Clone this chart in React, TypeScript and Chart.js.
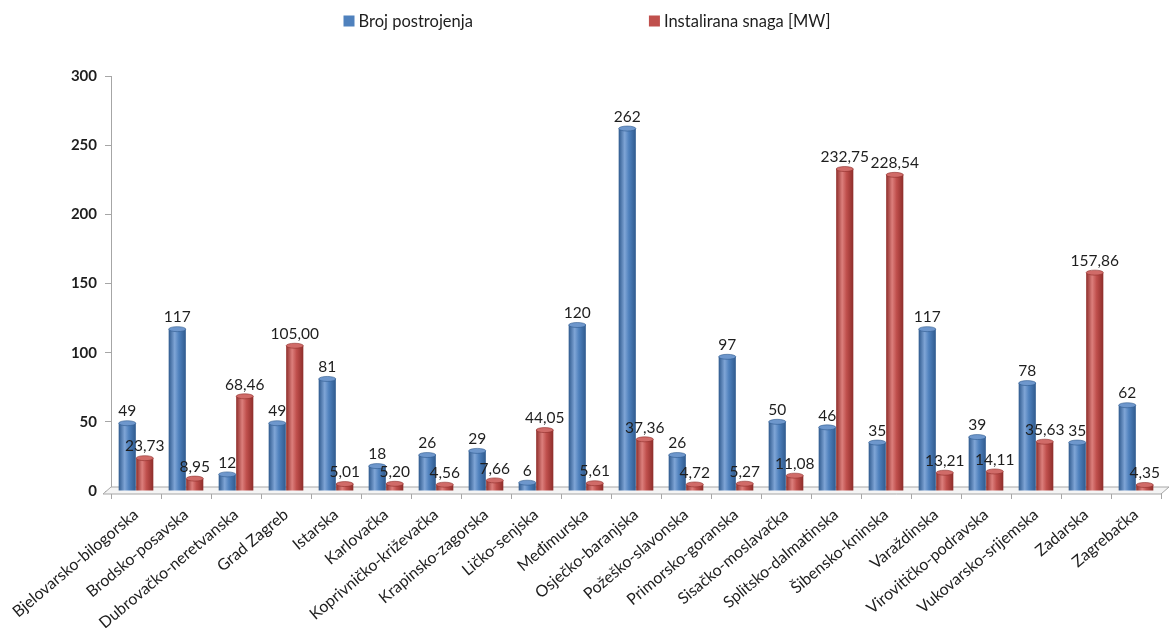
import React, { useEffect, useRef } from "react";
import { Chart, registerables } from "chart.js";

Chart.register(...registerables);

const categories = [
  "Bjelovarsko-bilogorska",
  "Brodsko-posavska",
  "Dubrovačko-neretvanska",
  "Grad Zagreb",
  "Istarska",
  "Karlovačka",
  "Koprivničko-križevačka",
  "Krapinsko-zagorska",
  "Ličko-senjska",
  "Međimurska",
  "Osječko-baranjska",
  "Požeško-slavonska",
  "Primorsko-goranska",
  "Sisačko-moslavačka",
  "Splitsko-dalmatinska",
  "Šibensko-kninska",
  "Varaždinska",
  "Virovitičko-podravska",
  "Vukovarsko-srijemska",
  "Zadarska",
  "Zagrebačka",
];

const brojPostrojenja = [49, 117, 12, 49, 81, 18, 26, 29, 6, 120, 262, 26, 97, 50, 46, 35, 117, 39, 78, 35, 62];
const instaliranaSnaga = [23.73, 8.95, 68.46, 105.0, 5.01, 5.2, 4.56, 7.66, 44.05, 5.61, 37.36, 4.72, 5.27, 11.08, 232.75, 228.54, 13.21, 14.11, 35.63, 157.86, 4.35];

const seriesLabels = ["Broj postrojenja", "Instalirana snaga [MW]"];
const yTicks = [0, 50, 100, 150, 200, 250, 300];

const FONT = "Lato, 'Open Sans', sans-serif";
const palette = [
  { base: "#4F81BD", dark: "#2F5A8E", light: "#7FA5D6", top: "#6E97CC" },
  { base: "#C0504D", dark: "#8E2D2A", light: "#DC7F7C", top: "#D06B68" },
];

const fmt = (v: number, ds: number) => (ds === 0 ? String(v) : v.toFixed(2).replace(".", ","));

const cylinderPlugin = {
  id: "cylinder",
  beforeDatasetsDraw(chart: any) {
    const ctx = chart.ctx;
    chart.data.datasets.forEach((_: any, di: number) => {
      const meta = chart.getDatasetMeta(di);
      const p = palette[di];
      meta.data.forEach((el: any) => {
        const { x, width } = el.getProps(["x", "width"], true);
        const g = ctx.createLinearGradient(x - width / 2, 0, x + width / 2, 0);
        g.addColorStop(0, p.dark);
        g.addColorStop(0.35, p.light);
        g.addColorStop(0.6, p.base);
        g.addColorStop(1, p.dark);
        try {
          el.options.backgroundColor = g;
        } catch (e) {}
      });
    });
    const { left, right, bottom } = chart.chartArea;
    ctx.save();
    ctx.strokeStyle = "#A6A6A6";
    ctx.lineWidth = 1;
    ctx.beginPath();
    ctx.moveTo(left - 8, bottom + 3);
    ctx.lineTo(right, bottom + 3);
    ctx.lineTo(right + 8, bottom - 4);
    ctx.lineTo(left, bottom - 4);
    ctx.closePath();
    ctx.fillStyle = "#F4F4F4";
    ctx.fill();
    ctx.stroke();
    ctx.restore();
  },
  afterDatasetsDraw(chart: any) {
    const ctx = chart.ctx;
    ctx.save();
    chart.data.datasets.forEach((ds: any, di: number) => {
      const meta = chart.getDatasetMeta(di);
      const p = palette[di];
      meta.data.forEach((el: any) => {
        const { x, y, width } = el.getProps(["x", "y", "width"], true);
        ctx.beginPath();
        ctx.ellipse(x, y, width / 2, 2.5, 0, 0, Math.PI * 2);
        ctx.fillStyle = p.top;
        ctx.fill();
        ctx.strokeStyle = p.dark;
        ctx.lineWidth = 0.6;
        ctx.stroke();
      });
    });
    ctx.font = `15.5px ${FONT}`;
    ctx.fillStyle = "#1E1E1E";
    ctx.textAlign = "center";
    ctx.textBaseline = "bottom";
    chart.data.datasets.forEach((ds: any, di: number) => {
      const meta = chart.getDatasetMeta(di);
      meta.data.forEach((el: any, i: number) => {
        const { x, y } = el.getProps(["x", "y"], true);
        ctx.fillText(fmt(ds.data[i], di), x, y - 4);
      });
    });
    ctx.restore();
  },
  afterDraw(chart: any) {
    const ctx = chart.ctx;
    ctx.save();
    ctx.font = `16.5px ${FONT}`;
    ctx.textBaseline = "middle";
    ctx.textAlign = "left";
    const box = 11;
    const gap = 4;
    const spacing = 176;
    const widths = seriesLabels.map((l) => box + gap + ctx.measureText(l).width);
    const total = widths[0] + spacing + widths[1];
    let x = chart.width / 2 - total / 2;
    const y = 21;
    seriesLabels.forEach((l, i) => {
      ctx.fillStyle = palette[i].base;
      ctx.fillRect(x, y - box / 2, box, box);
      ctx.fillStyle = "#1E1E1E";
      ctx.fillText(l, x + box + gap, y + 1);
      x += widths[i] + spacing;
    });
    ctx.restore();
  },
};

export default function App() {
  const ref = useRef<HTMLCanvasElement | null>(null);
  useEffect(() => {
    document.body.style.margin = "0";
    if (!ref.current) return;
    const chart = new Chart(ref.current, {
      type: "bar",
      data: {
        labels: categories,
        datasets: [
          {
            label: seriesLabels[0],
            data: brojPostrojenja,
            backgroundColor: () => palette[0].base,
            borderWidth: 0,
            categoryPercentage: 0.7,
            barPercentage: 0.98,
          },
          {
            label: seriesLabels[1],
            data: instaliranaSnaga,
            backgroundColor: () => palette[1].base,
            borderWidth: 0,
            categoryPercentage: 0.7,
            barPercentage: 0.98,
          },
        ],
      },
      options: {
        animation: false,
        responsive: true,
        maintainAspectRatio: false,
        layout: { padding: { top: 76, left: 11, right: 13, bottom: 0 } },
        plugins: { legend: { display: false }, tooltip: { enabled: false } },
        scales: {
          x: {
            afterFit: (s: any) => {
              s.height = 137;
              s.paddingLeft = 0;
              s.paddingRight = 0;
            },
            grid: { offset: true, drawOnChartArea: false, tickLength: 8, color: "#A6A6A6" },
            border: { display: true, color: "#A6A6A6" },
            ticks: {
              autoSkip: false,
              maxRotation: 40,
              minRotation: 40,
              color: "#1E1E1E",
              font: { family: FONT, size: 16 },
              padding: 6,
            },
          },
          y: {
            min: 0,
            max: 300,
            afterFit: (s: any) => {
              s.width = 100;
            },
            afterBuildTicks: (s: any) => {
              s.ticks = yTicks.map((v) => ({ value: v }));
            },
            grid: { drawOnChartArea: false, tickLength: 6, color: "#A6A6A6" },
            border: { display: true, color: "#A6A6A6" },
            ticks: {
              color: "#1E1E1E",
              font: { family: FONT, size: 15, weight: "bold" },
              padding: 8,
            },
          },
        },
      },
      plugins: [cylinderPlugin],
    });
    return () => chart.destroy();
  }, []);
  return (
    <div style={{ width: 1174, height: 628, position: "relative", background: "#fff" }}>
      <canvas ref={ref} />
    </div>
  );
}
